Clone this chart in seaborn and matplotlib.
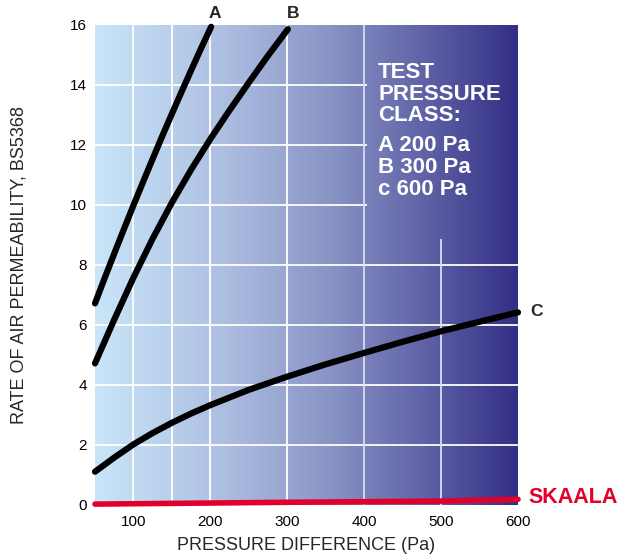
import numpy as np
import pandas as pd
import matplotlib
matplotlib.use("Agg")
import matplotlib.pyplot as plt
from matplotlib.colors import LinearSegmentedColormap
import seaborn as sns

# curves (pressure in Pa, permeability)
a_x = [50, 62.5, 75, 87.5, 100, 112.5, 125, 137.5, 150, 162.5, 175, 187.5, 201]
a_y = [6.72, 7.56, 8.38, 9.19, 9.99, 10.77, 11.54, 12.30, 13.04, 13.77,
       14.49, 15.20, 15.94]
b_x = [50, 75, 100, 125, 150, 175, 200, 225, 250, 275, 300.8]
b_y = [4.72, 6.18, 7.58, 8.88, 10.08, 11.18, 12.2, 13.16, 14.08, 14.98, 15.86]
c_x = [50, 75, 100, 125, 150, 175, 200, 250, 300, 350, 400, 450, 500, 550, 600]
c_y = [1.11, 1.58, 2.02, 2.40, 2.74, 3.05, 3.33, 3.84, 4.28, 4.69, 5.07, 5.44,
       5.79, 6.11, 6.42]
skaala_x = [50, 300, 500, 600]
skaala_y = [0.03, 0.09, 0.13, 0.19]

x_ticks = [100, 200, 300, 400, 500, 600]
y_ticks = [0, 2, 4, 6, 8, 10, 12, 14, 16]
legend_lines = ["TEST", "PRESSURE", "CLASS:", "A 200 Pa", "B 300 Pa", "c 600 Pa"]

df = pd.concat([
    pd.DataFrame({"p": a_x, "r": a_y, "cls": "A"}),
    pd.DataFrame({"p": b_x, "r": b_y, "cls": "B"}),
    pd.DataFrame({"p": c_x, "r": c_y, "cls": "C"}),
])

sns.set_style("white")
plt.rcParams["font.family"] = ["Liberation Sans", "DejaVu Sans"]

fig = plt.figure(figsize=(6.25, 5.54), dpi=100)
ax = fig.add_axes([95 / 625, 1 - 505 / 554, 423 / 625, 480 / 554])

# background gradient
cmap = LinearSegmentedColormap.from_list(
    "bg", [(0.0, "#c9e6f9"), (0.3, "#aebfe2"), (0.55, "#8a95c6"),
           (0.8, "#5b5ea3"), (1.0, "#332f86")])
grad = np.linspace(0, 1, 256).reshape(1, -1)
ax.imshow(grad, cmap=cmap, aspect="auto", extent=[50, 600, 0, 16],
          origin="lower", zorder=0)

# partial grid as in the reference
gl = dict(color="white", lw=1.3, zorder=1)
ax.hlines([2, 4, 6, 8], 50, 600, **gl)
ax.hlines([10, 12, 14], 50, 404, **gl)
ax.vlines([100, 150, 200, 300], 0, 16, **gl)
ax.vlines([400], 0, 16, color="#d8dcef", lw=1.3, zorder=1)
ax.vlines([500], 0, 8.87, color="#d8dcef", lw=1.3, zorder=1)

sns.lineplot(data=df, x="p", y="r", hue="cls", palette=["black"] * 3,
             lw=4.5, legend=False, ax=ax, zorder=3,
             solid_capstyle="round", solid_joinstyle="round", clip_on=False)
sns.lineplot(x=skaala_x, y=skaala_y, color="#e2002b", lw=4, ax=ax, zorder=3,
             solid_capstyle="round", clip_on=False)

ax.set_xlim(50, 600)
ax.set_ylim(0, 16)
ax.set_xticks(x_ticks)
ax.set_yticks(y_ticks)
ax.tick_params(length=0, labelsize=11, colors="black")
ax.tick_params(axis="x", pad=7)
ax.tick_params(axis="y", pad=6)
for s in ax.spines.values():
    s.set_visible(False)
ax.set_xlabel("PRESSURE DIFFERENCE (Pa)", fontsize=13, labelpad=6)
ax.set_ylabel("RATE OF AIR PERMEABILITY, BS5368", fontsize=13, labelpad=30)

bold = dict(fontweight="bold", clip_on=False)
ax.text(206, 16.37, "A", fontsize=12.5, ha="center", va="center", **bold)
ax.text(307, 16.37, "B", fontsize=12.5, ha="center", va="center", **bold)
ax.text(616, 6.45, "C", fontsize=12.5, ha="left", va="center", **bold)
ax.text(613, 0.25, "SKAALA", fontsize=15.5, color="#e2002b", ha="left",
        va="center", **bold)

tops = [14.77, 14.05, 13.32, 12.33, 11.6, 10.87]
for line, y in zip(legend_lines, tops):
    ax.text(418, y, line, fontsize=16, color="white", ha="left", va="top",
            **bold)

fig.savefig("out.png", dpi=100)
